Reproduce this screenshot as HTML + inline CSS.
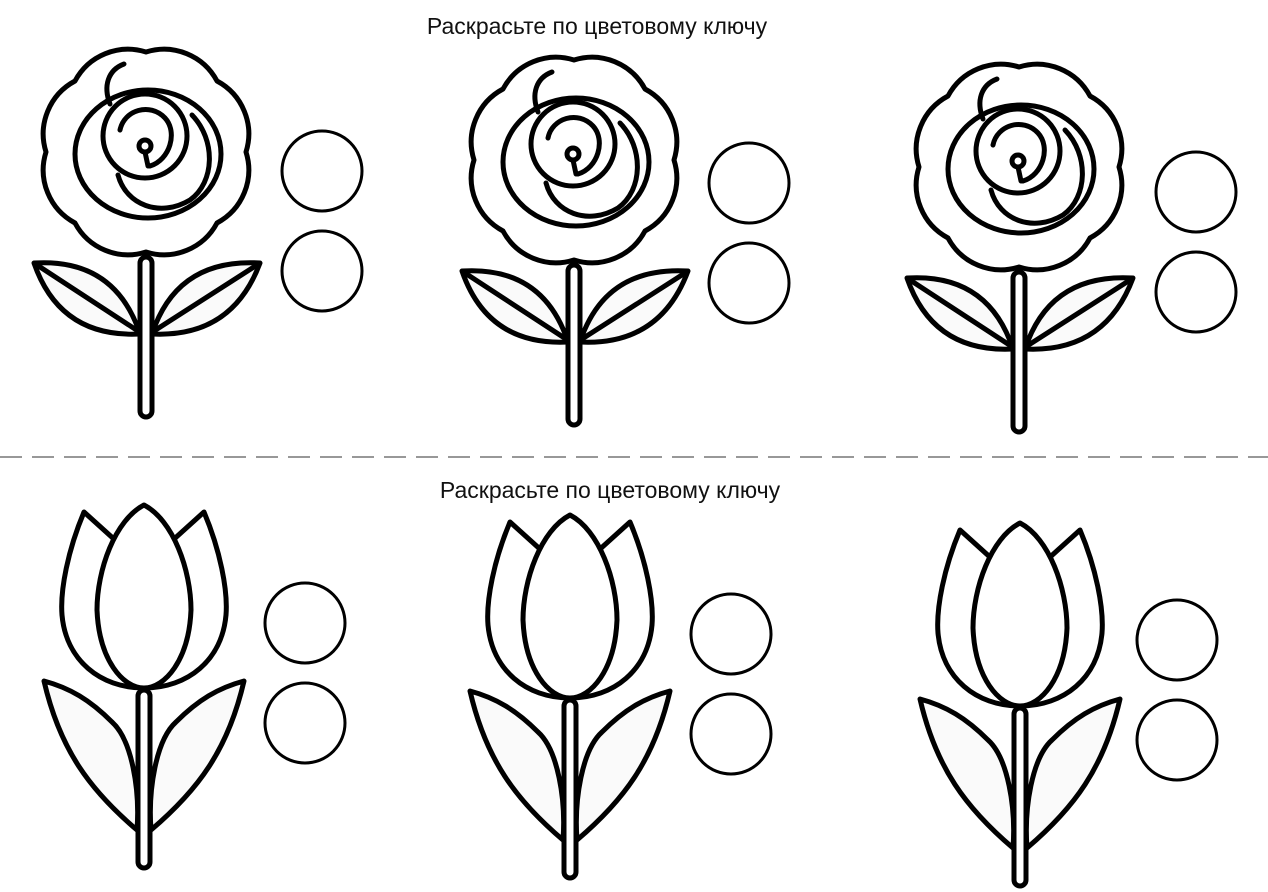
<!DOCTYPE html>
<html><head><meta charset="utf-8"><style>
html,body{margin:0;padding:0;background:#fff;}
svg{display:block}
text{font-family:"Liberation Sans",sans-serif;font-size:23px;fill:#111}
</style></head><body>
<svg width="1268" height="892" viewBox="0 0 1268 892" xmlns="http://www.w3.org/2000/svg">
<defs>
<g id="rose" fill="none" stroke="#000" stroke-width="5" stroke-linejoin="round" stroke-linecap="round">
  <path fill="#fff" d="M246,152 A60,60 0 0 0 217,81 A60,60 0 0 0 146,52 A60,60 0 0 0 75,81 A60,60 0 0 0 46,152 A60,60 0 0 0 75,223 A60,60 0 0 0 146,252 A60,60 0 0 0 217,223 A60,60 0 0 0 246,152 Z"/>
  <path d="M110,104 C103,86 108,70 124,64"/>
  <ellipse cx="148" cy="154" rx="73" ry="64"/>
  <circle cx="145" cy="136" r="42"/>
  <path d="M118,175 C126,205 160,218 190,200 C215,182 216,140 192,115"/>
  <path d="M120,130 C124,110 150,102 165,118 C178,132 170,160 150,166"/>
  <circle cx="145" cy="146" r="6"/>
  <path d="M145,152 L148,166"/>
  <path fill="#fafafa" d="M34,263 Q115,258 140,334 Q60,338 34,263 Z"/>
  <path d="M37,265 L138,331"/>
  <path fill="#fafafa" d="M260,263 Q177,258 152,334 Q232,338 260,263 Z"/>
  <path d="M257,265 L154,331"/>
  <rect x="140" y="257" width="12" height="160" rx="6" fill="#fff"/>
</g>
<g id="tulip" fill="none" stroke="#000" stroke-width="5" stroke-linejoin="round" stroke-linecap="round">
  <path fill="#fff" d="M115,540 L84,512 C68,550 60,590 62,615 C66,660 100,688 144,688 C188,688 222,660 226,615 C228,590 220,550 204,512 L173,540"/>
  <path fill="#fff" d="M144,505 C115,520 97,570 97,610 C99,660 123,688 144,688 C165,688 189,660 191,610 C191,570 173,520 144,505Z"/>
  <path fill="#fafafa" d="M44,681 C60,750 90,790 137,830 C140,790 132,740 112,722 C90,700 70,688 44,681 Z"/>
  <path fill="#fafafa" d="M244,681 C228,750 198,790 151,830 C148,790 156,740 176,722 C198,700 218,688 244,681 Z"/>
  <rect x="138" y="690" width="12" height="178" rx="6" fill="#fff"/>
</g>
<g id="dots" fill="none" stroke="#000" stroke-width="3">
  <circle cx="0" cy="0" r="40"/>
  <circle cx="0" cy="100" r="40"/>
</g>
</defs>
<rect width="1268" height="892" fill="#fff"/>
<text x="597" y="34" text-anchor="middle">Раскрасьте по цветовому ключу</text>
<text x="610" y="498" text-anchor="middle">Раскрасьте по цветовому ключу</text>
<line x1="0" y1="457" x2="1268" y2="457" stroke="#777" stroke-width="1.5" stroke-dasharray="22,10"/>
<use href="#rose"/>
<use href="#rose" transform="translate(428,8)"/>
<use href="#rose" transform="translate(873,15)"/>
<use href="#dots" transform="translate(322,171)"/>
<use href="#dots" transform="translate(749,183)"/>
<use href="#dots" transform="translate(1196,192)"/>
<use href="#tulip"/>
<use href="#tulip" transform="translate(426,10)"/>
<use href="#tulip" transform="translate(876,18)"/>
<use href="#dots" transform="translate(305,623)"/>
<use href="#dots" transform="translate(731,634)"/>
<use href="#dots" transform="translate(1177,640)"/>
</svg>
</body></html>
